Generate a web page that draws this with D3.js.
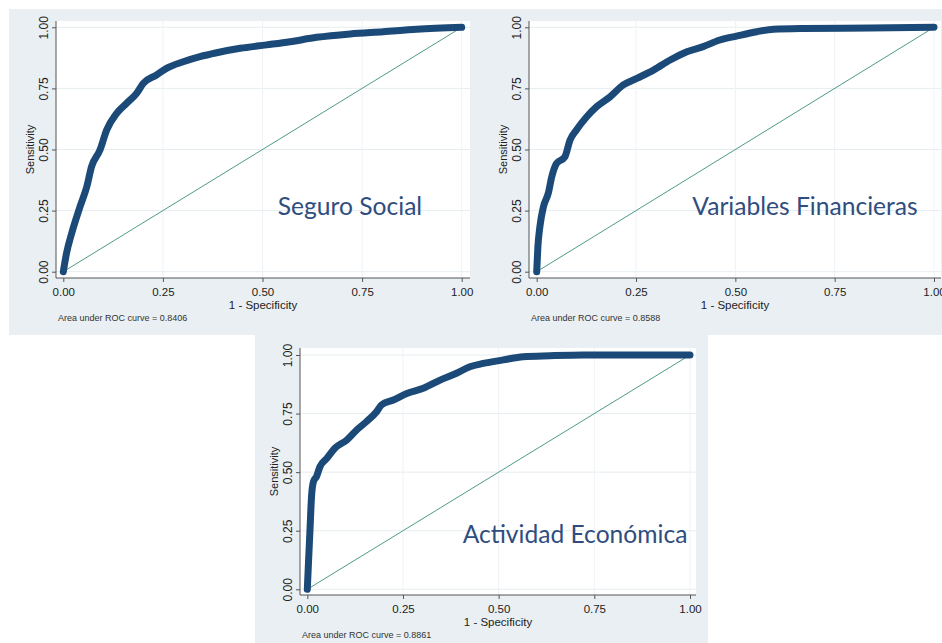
<!DOCTYPE html>
<html>
<head>
<meta charset="utf-8">
<script src="https://cdn.jsdelivr.net/npm/d3@7"></script>
<style>
  body { margin: 0; background: #fff; }
  svg { display: block; }
  .tick text { font-family: Arial, "Liberation Sans", sans-serif; fill: #222; }
</style>
</head>
<body>
<svg id="chart" width="942" height="643"></svg>
<script>
// ROC points (1 - specificity, sensitivity)
const fprSeguro = [0, .008, .021, .042, .059, .071, .092, .109, .134, .159, .184, .201, .234, .259, .301, .343, .385, .444, .510, .569, .636, .720, .803, .887, 1]
const tprSeguro = [0, .075, .157, .266, .348, .430, .498, .580, .648, .689, .730, .771, .805, .832, .859, .880, .896, .914, .928, .941, .959, .973, .982, .992, 1]

const fprFinanc = [0, .003, .008, .017, .029, .038, .050, .071, .084, .100, .126, .151, .185, .218, .252, .294, .336, .378, .419, .461, .503, .554, .596, .671, .839, 1]
const tprFinanc = [0, .102, .184, .266, .320, .389, .443, .470, .539, .580, .634, .675, .716, .764, .791, .825, .866, .900, .921, .948, .964, .982, .992, .995, .997, 1]

const fprActiv = [0, .003, .007, .011, .016, .024, .033, .051, .072, .103, .129, .155, .181, .194, .225, .260, .303, .347, .390, .425, .460, .512, .564, .634, .721, 1]
const tprActiv = [0, .111, .253, .395, .459, .481, .523, .559, .602, .637, .680, .716, .758, .787, .808, .836, .858, .893, .922, .950, .964, .979, .993, .997, 1, 1]

const ticks = [0, .25, .5, .75, 1]
const panelNames = ['Seguro Social', 'Variables Financieras', 'Actividad Económica']
const aucValues = ['0.8406', '0.8588', '0.8861']

// layout of each panel in pixels
const panels = [
	{ fpr: fprSeguro, tpr: tprSeguro, axisX: 56, top: 21, axisY: 278, right: 470, x0: 63.3, x1: 461.7, y0: 271.7, y1: 27.3, label: [350, 215] },
	{ fpr: fprFinanc, tpr: tprFinanc, axisX: 529, top: 21, axisY: 278, right: 941, x0: 536.7, x1: 934, y0: 271.7, y1: 27.3, label: [805, 215] },
	{ fpr: fprActiv, tpr: tprActiv, axisX: 300, top: 348, axisY: 595, right: 696, x0: 307.3, x1: 690, y0: 589.3, y1: 355, label: [575, 543] }
]

const svg = d3.select('#chart')
const bg = '#e9eff2'

// grey backgrounds behind the graphs
svg.append('rect').attr('x', 9).attr('y', 9).attr('width', 933).attr('height', 326).attr('fill', bg)
svg.append('rect').attr('x', 255).attr('y', 334).attr('width', 453).attr('height', 309).attr('fill', bg)

panels.forEach((p, i) => {
	let g = svg.append('g')
	let sx = d3.scaleLinear().domain([0, 1]).range([p.x0, p.x1])
	let sy = d3.scaleLinear().domain([0, 1]).range([p.y0, p.y1])

	// plot region
	g.append('rect')
	.attr('x', p.axisX).attr('y', p.top)
	.attr('width', p.right - p.axisX).attr('height', p.axisY - p.top)
	.attr('fill', '#fff')

	// grid lines
	g.selectAll('.hgrid').data(ticks).enter().append('line')
	.attr('x1', p.axisX).attr('x2', p.right)
	.attr('y1', d => sy(d)).attr('y2', d => sy(d))
	.attr('stroke', '#e6edf0').attr('stroke-width', 1)
	g.selectAll('.vgrid').data(ticks.slice(1)).enter().append('line')
	.attr('x1', d => sx(d)).attr('x2', d => sx(d))
	.attr('y1', p.top).attr('y2', p.axisY)
	.attr('stroke', '#eef2f4').attr('stroke-width', 1)

	// axes
	let xAxis = d3.axisBottom(sx).tickValues(ticks).tickFormat(d3.format('.2f')).tickSize(4).tickPadding(4)
	let xg = g.append('g').attr('transform', `translate(0, ${p.axisY})`).call(xAxis)
	xg.select('.domain').attr('d', `M${p.axisX},0H${p.right}`)
	xg.selectAll('text').attr('font-size', 11.5).attr('dy', 0).attr('y', 17.5)

	let yAxis = d3.axisLeft(sy).tickValues(ticks).tickFormat(d3.format('.2f')).tickSize(4)
	let yg = g.append('g').attr('transform', `translate(${p.axisX}, 0)`).call(yAxis)
	yg.select('.domain').attr('d', `M0,${p.top}V${p.axisY}`)
	yg.selectAll('text')
	.attr('font-size', 12)
	.attr('text-anchor', 'middle')
	.attr('transform', 'rotate(-90)')
	.attr('x', 0).attr('y', -8).attr('dy', 0)

	g.selectAll('.domain, .tick line').attr('stroke', '#555')

	// axis titles
	g.append('text')
	.attr('x', (p.axisX + p.right) / 2).attr('y', p.axisY + 30.5)
	.attr('text-anchor', 'middle')
	.attr('font-family', 'Arial, "Liberation Sans", sans-serif').attr('font-size', 11.5)
	.attr('fill', '#222')
	.text('1 - Specificity')

	g.append('text')
	.attr('transform', `translate(${p.axisX - 22}, ${(p.top + p.axisY) / 2}) rotate(-90)`)
	.attr('text-anchor', 'middle')
	.attr('font-family', 'Arial, "Liberation Sans", sans-serif').attr('font-size', 11)
	.attr('fill', '#222')
	.text('Sensitivity')

	g.append('text')
	.attr('x', p.axisX + 2).attr('y', p.axisY + 43)
	.attr('font-family', 'Arial, "Liberation Sans", sans-serif').attr('font-size', 9)
	.attr('fill', '#333')
	.text(`Area under ROC curve = ${aucValues[i]}`)

	// reference diagonal
	g.append('line')
	.attr('x1', sx(0)).attr('y1', sy(0)).attr('x2', sx(1)).attr('y2', sy(1))
	.attr('stroke', '#4f9a86').attr('stroke-width', 1)

	// ROC curve
	let pts = p.fpr.map((d, k) => [d, p.tpr[k]])
	let line = d3.line().x(d => sx(d[0])).y(d => sy(d[1])).curve(d3.curveMonotoneX)
	g.append('path')
	.attr('d', line(pts))
	.attr('fill', 'none')
	.attr('stroke', '#1b4a78')
	.attr('stroke-width', 7)
	.attr('stroke-linecap', 'round')
	.attr('stroke-linejoin', 'round')

	// name of the model
	g.append('text')
	.attr('x', p.label[0]).attr('y', p.label[1])
	.attr('text-anchor', 'middle')
	.attr('font-family', 'Lato, "Open Sans", sans-serif').attr('font-size', 24.6)
	.attr('fill', '#2f4d7e')
	.text(panelNames[i])
})
</script>
</body>
</html>
